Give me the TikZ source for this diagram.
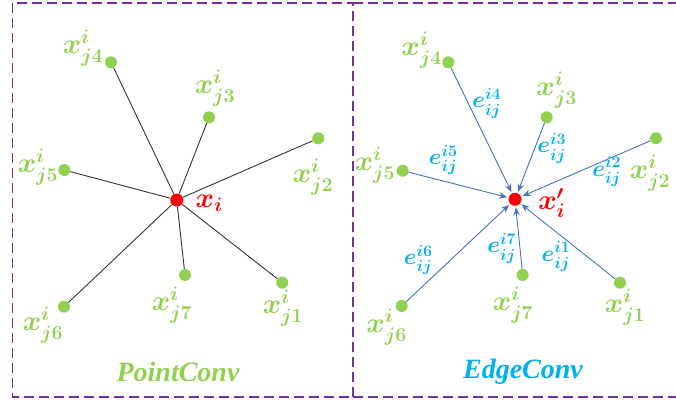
\RequirePackage{fix-cm}
\documentclass[tikz,border=0pt]{standalone}
\usepackage{amsmath}
\usepackage{fontspec}
\setmainfont{Liberation Serif}
\usepackage{tikz}
\usetikzlibrary{arrows.meta}
\usepackage{xcolor}

\definecolor{ptgreen}{HTML}{92D050}
\definecolor{edgeblue}{HTML}{00B0F0}
\definecolor{arrowblue}{HTML}{4472C4}
\definecolor{framepurple}{HTML}{7030A0}

\begin{document}
\begin{tikzpicture}[
    x=1pt, y=-1pt,
    >=Stealth,
    frame/.style={draw=framepurple, line width=1.3pt, dash pattern=on 10pt off 5pt},
    nbr/.style={circle, fill=ptgreen, inner sep=0pt, minimum size=12pt},
    ctr/.style={circle, fill=red, inner sep=0pt, minimum size=13pt},
    xlbl/.style={text=ptgreen, inner sep=0pt, font=\fontsize{28}{32}\selectfont\boldmath},
    clbl/.style={text=red, inner sep=0pt, font=\fontsize{28}{32}\selectfont\boldmath},
    elbl/.style={text=edgeblue, inner sep=0pt, font=\fontsize{23}{27}\selectfont\boldmath},
    title/.style={font=\fontsize{28}{32}\selectfont\bfseries\itshape},
    link/.style={draw=black!80, line width=0.9pt},
    msg/.style={-{Stealth[length=8pt,width=6.5pt]}, draw=arrowblue, line width=0.9pt, shorten >=1.5pt}
  ]
  \useasboundingbox (0,0) rectangle (676,403);

  % frames
  \draw[frame] (12.5,3) rectangle (353,397);
  \draw[frame] (353,3) -- (700,3);
  \draw[frame] (353,397) -- (700,397);

  % PointConv
  \node[ctr] (xi) at (176.7,200) {};
  \node[nbr] (pj1) at (282.3,282.7) {};
  \node[nbr] (pj2) at (318.3,138.3) {};
  \node[nbr] (pj3) at (209,117.3) {};
  \node[nbr] (pj4) at (111,62.3) {};
  \node[nbr] (pj5) at (64.3,170) {};
  \node[nbr] (pj6) at (64,306.7) {};
  \node[nbr] (pj7) at (185,275) {};

  \draw[link] (xi) -- (pj1);
  \draw[link] (xi) -- (pj2);
  \draw[link] (xi) -- (pj3);
  \draw[link] (xi) -- (pj4);
  \draw[link] (xi) -- (pj5);
  \draw[link] (xi) -- (pj6);
  \draw[link] (xi) -- (pj7);

  \node[clbl] (lxi) at (209,203) {$x_i$};
  \node[xlbl] (lpj1) at (283,308) {$x^i_{j1}$};
  \node[xlbl] (lpj2) at (313,177) {$x^i_{j2}$};
  \node[xlbl] (lpj3) at (215,88) {$x^i_{j3}$};
  \node[xlbl] (lpj4) at (83,48) {$x^i_{j4}$};
  \node[xlbl] (lpj5) at (38,167) {$x^i_{j5}$};
  \node[xlbl] (lpj6) at (43,325) {$x^i_{j6}$};
  \node[xlbl] (lpj7) at (172,305) {$x^i_{j7}$};
  \node[title, text=ptgreen] (pconv) at (178,372) {PointConv};

  % EdgeConv
  \node[ctr] (xo) at (515,199.3) {};
  \node[nbr] (ej1) at (620,282.7) {};
  \node[nbr] (ej2) at (656,138.3) {};
  \node[nbr] (ej3) at (546.7,117.3) {};
  \node[nbr] (ej4) at (448.3,62.3) {};
  \node[nbr] (ej5) at (402.7,170.7) {};
  \node[nbr] (ej6) at (401.7,306) {};
  \node[nbr] (ej7) at (522.7,275) {};

  \draw[msg] (ej1) -- (xo);
  \draw[msg] (ej2) -- (xo);
  \draw[msg] (ej3) -- (xo);
  \draw[msg] (ej4) -- (xo);
  \draw[msg] (ej5) -- (xo);
  \draw[msg] (ej6) -- (xo);
  \draw[msg] (ej7) -- (xo);

  \node[clbl] (lxo) at (551.7,203) {$x'_i$};
  \node[xlbl] (lej1) at (625,307) {$x^i_{j1}$};
  \node[xlbl] (lej2) at (650,173) {$x^i_{j2}$};
  \node[xlbl] (lej3) at (556.7,90) {$x^i_{j3}$};
  \node[xlbl] (lej4) at (421.7,50) {$x^i_{j4}$};
  \node[xlbl] (lej5) at (375,165) {$x^i_{j5}$};
  \node[xlbl] (lej6) at (386.7,327) {$x^i_{j6}$};
  \node[xlbl] (lej7) at (513,305) {$x^i_{j7}$};

  \node[elbl] (e1) at (556,256.7) {$e^{i1}_{ij}$};
  \node[elbl] (e2) at (606.7,171.7) {$e^{i2}_{ij}$};
  \node[elbl] (e3) at (551.7,148.3) {$e^{i3}_{ij}$};
  \node[elbl] (e4) at (486.7,103.3) {$e^{i4}_{ij}$};
  \node[elbl] (e5) at (443.3,160) {$e^{i5}_{ij}$};
  \node[elbl] (e6) at (418.3,260) {$e^{i6}_{ij}$};
  \node[elbl] (e7) at (501.7,248.3) {$e^{i7}_{ij}$};
  \node[title, text=edgeblue] (econv) at (523,372) {EdgeConv};

\end{tikzpicture}
\end{document}
